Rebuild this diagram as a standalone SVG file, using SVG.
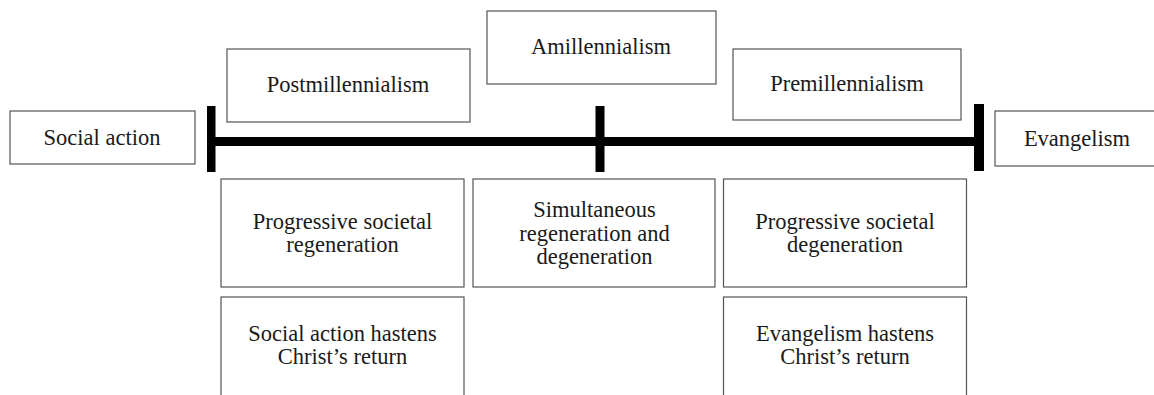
<svg xmlns="http://www.w3.org/2000/svg" width="1154" height="395" viewBox="0 0 1154 395">
<style>
.box{fill:#fff;stroke:#555;stroke-width:1.2}
.t{font-family:"Liberation Serif","Times New Roman",serif;font-size:22.5px;fill:#1a1a1a;text-anchor:middle}
.bar{fill:#000}
</style>
<rect width="1154" height="395" fill="#fff"/>
<g id="connectors">
<rect class="bar" x="207" y="137" width="777" height="9"/>
<rect class="bar" x="207" y="106" width="8.5" height="66"/>
<rect class="bar" x="595.5" y="106" width="9" height="66"/>
<rect class="bar" x="974" y="104" width="10" height="67"/>
</g>
<g id="social-action"><rect class="box" x="10" y="111" width="185" height="53"/><text class="t" x="102" y="145">Social action</text></g>
<g id="postmillennialism"><rect class="box" x="227" y="49" width="243" height="73"/><text class="t" x="348" y="91.5">Postmillennialism</text></g>
<g id="amillennialism"><rect class="box" x="487" y="11" width="229" height="73"/><text class="t" x="601" y="54">Amillennialism</text></g>
<g id="premillennialism"><rect class="box" x="733" y="49" width="228" height="71"/><text class="t" x="847" y="91">Premillennialism</text></g>
<g id="evangelism"><rect class="box" x="995" y="111" width="165" height="55"/><text class="t" x="1077" y="145.5">Evangelism</text></g>
<g id="regeneration"><rect class="box" x="221" y="179" width="243" height="108"/><text class="t" x="342.5" y="229">Progressive societal</text><text class="t" x="342.5" y="252">regeneration</text></g>
<g id="simultaneous"><rect class="box" x="473" y="179" width="242" height="108"/><text class="t" x="594.5" y="217">Simultaneous</text><text class="t" x="594.5" y="240.5">regeneration and</text><text class="t" x="594.5" y="264">degeneration</text></g>
<g id="degeneration"><rect class="box" x="723.5" y="179" width="243" height="108"/><text class="t" x="845" y="229">Progressive societal</text><text class="t" x="845" y="252">degeneration</text></g>
<g id="social-hastens"><rect class="box" x="221" y="297" width="243" height="110"/><text class="t" x="342.5" y="340.5">Social action hastens</text><text class="t" x="342.5" y="363.5">Christ’s return</text></g>
<g id="evangelism-hastens"><rect class="box" x="723.5" y="297" width="243" height="110"/><text class="t" x="845" y="340.5">Evangelism hastens</text><text class="t" x="845" y="363.5">Christ’s return</text></g>
</svg>
